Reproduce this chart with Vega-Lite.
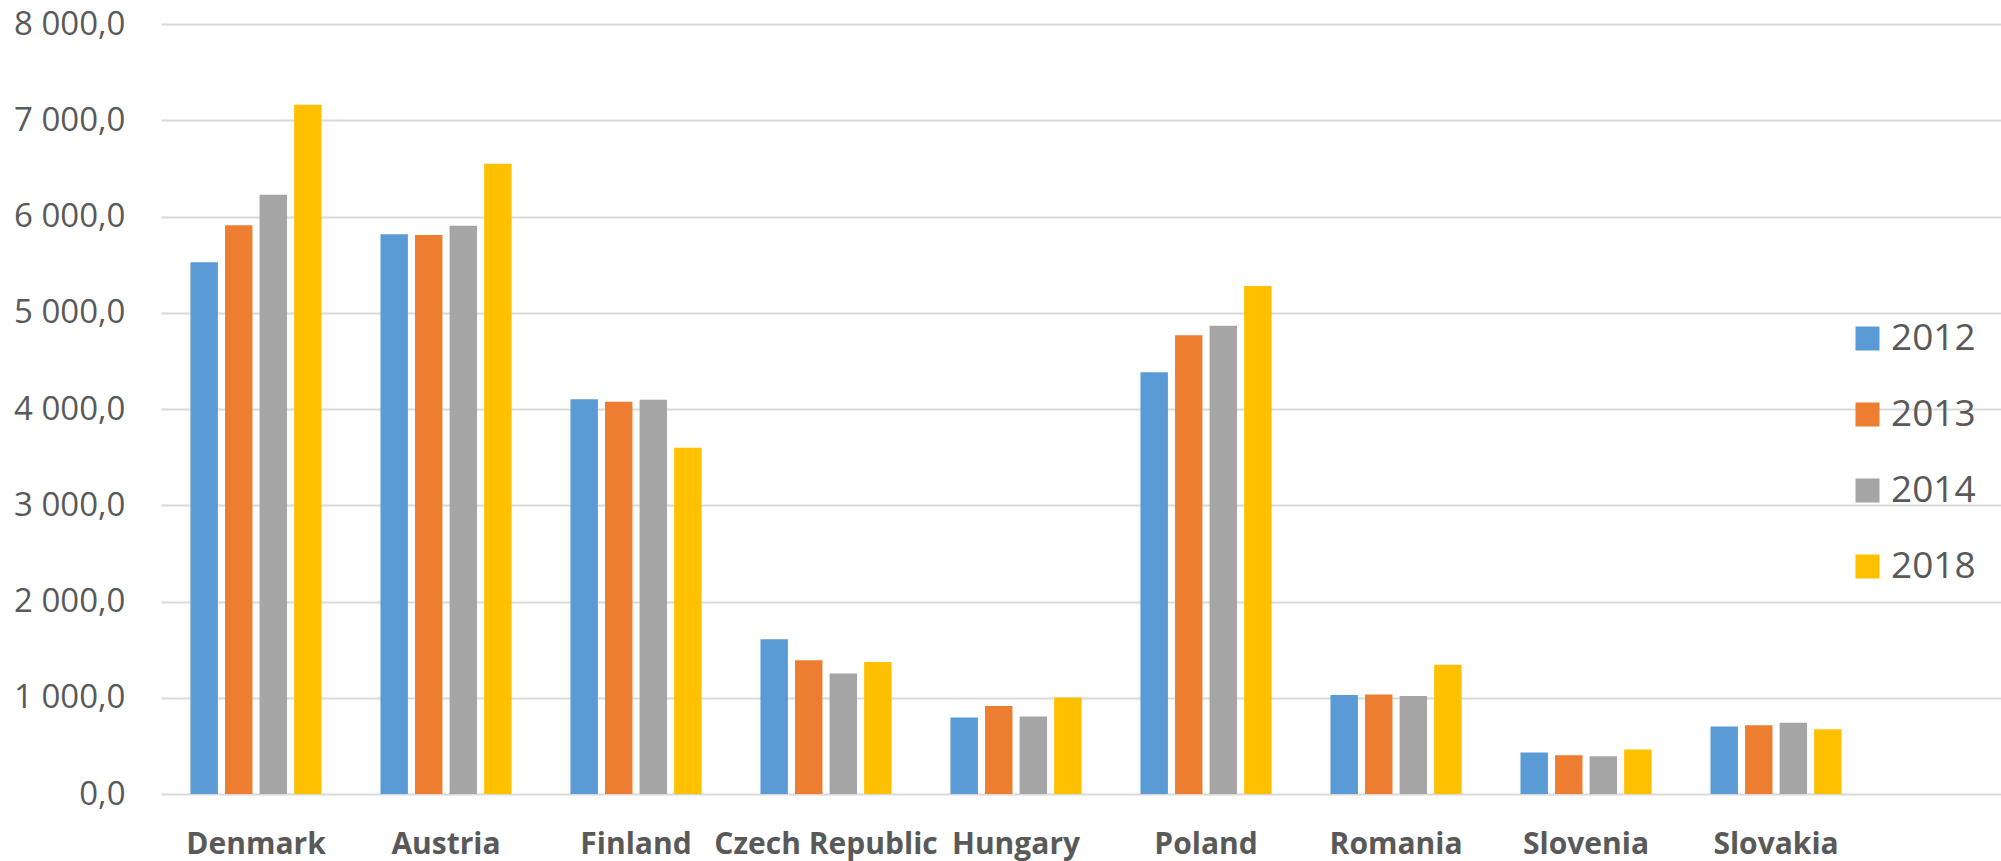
{
  "$schema": "https://vega.github.io/schema/vega-lite/v6.json",
  "width": 1840,
  "height": 770,
  "autosize": {"type": "none"},
  "padding": {"left": 161, "top": 24, "right": 0, "bottom": 67},
  "background": "white",
  "data": {
    "values": [
      {"country": "Denmark", "year": "2012", "value": 5524},
      {"country": "Denmark", "year": "2013", "value": 5910},
      {"country": "Denmark", "year": "2014", "value": 6226},
      {"country": "Denmark", "year": "2018", "value": 7160},
      {"country": "Austria", "year": "2012", "value": 5816},
      {"country": "Austria", "year": "2013", "value": 5809},
      {"country": "Austria", "year": "2014", "value": 5903},
      {"country": "Austria", "year": "2018", "value": 6549},
      {"country": "Finland", "year": "2012", "value": 4101},
      {"country": "Finland", "year": "2013", "value": 4076},
      {"country": "Finland", "year": "2014", "value": 4097},
      {"country": "Finland", "year": "2018", "value": 3597},
      {"country": "Czech Republic", "year": "2012", "value": 1608},
      {"country": "Czech Republic", "year": "2013", "value": 1389},
      {"country": "Czech Republic", "year": "2014", "value": 1253},
      {"country": "Czech Republic", "year": "2018", "value": 1372},
      {"country": "Hungary", "year": "2012", "value": 795},
      {"country": "Hungary", "year": "2013", "value": 913},
      {"country": "Hungary", "year": "2014", "value": 806},
      {"country": "Hungary", "year": "2018", "value": 1003},
      {"country": "Poland", "year": "2012", "value": 4382},
      {"country": "Poland", "year": "2013", "value": 4767},
      {"country": "Poland", "year": "2014", "value": 4865},
      {"country": "Poland", "year": "2018", "value": 5278},
      {"country": "Romania", "year": "2012", "value": 1028},
      {"country": "Romania", "year": "2013", "value": 1035},
      {"country": "Romania", "year": "2014", "value": 1017},
      {"country": "Romania", "year": "2018", "value": 1344},
      {"country": "Slovenia", "year": "2012", "value": 431},
      {"country": "Slovenia", "year": "2013", "value": 403},
      {"country": "Slovenia", "year": "2014", "value": 392},
      {"country": "Slovenia", "year": "2018", "value": 462},
      {"country": "Slovakia", "year": "2012", "value": 701},
      {"country": "Slovakia", "year": "2013", "value": 715},
      {"country": "Slovakia", "year": "2014", "value": 740},
      {"country": "Slovakia", "year": "2018", "value": 674}
    ]
  },
  "mark": {"type": "bar"},
  "encoding": {
    "x": {
      "field": "country",
      "type": "nominal",
      "sort": null,
      "scale": {"paddingInner": 0.31, "paddingOuter": 0.497, "align": 0.156},
      "axis": {
        "title": null,
        "labelAngle": 0,
        "domain": false,
        "ticks": false,
        "grid": false,
        "labelFont": "Open Sans",
        "labelFontWeight": "bold",
        "labelFontSize": 30,
        "labelColor": "#595959",
        "labelPadding": 35,
        "labelBaseline": "top",
        "labelOverlap": false,
        "labelLimit": 0
      }
    },
    "xOffset": {
      "field": "year",
      "type": "nominal",
      "scale": {"paddingInner": 0.206, "paddingOuter": 0}
    },
    "y": {
      "field": "value",
      "type": "quantitative",
      "scale": {"domain": [0, 8000], "nice": false},
      "axis": {
        "title": null,
        "values": [0, 1000, 2000, 3000, 4000, 5000, 6000, 7000, 8000],
        "labelExpr": "replace(replace(format(datum.value, ',.1f'), ',', ' '), '.', ',')",
        "domain": false,
        "ticks": false,
        "grid": true,
        "gridColor": "#D9D9D9",
        "gridWidth": 2,
        "labelFont": "Open Sans",
        "labelFontSize": 33,
        "labelColor": "#595959",
        "labelPadding": 36
      }
    },
    "color": {
      "field": "year",
      "type": "nominal",
      "scale": {
        "domain": ["2012", "2013", "2014", "2018"],
        "range": ["#5B9BD5", "#ED7D31", "#A5A5A5", "#FFC000"]
      },
      "legend": {
        "title": null,
        "orient": "none",
        "legendX": 1688,
        "legendY": 296,
        "padding": 0,
        "symbolType": "square",
        "symbolSize": 576,
        "symbolStrokeWidth": 0,
        "labelFont": "Open Sans",
        "labelFontSize": 37,
        "labelColor": "#595959",
        "labelOffset": 5,
        "rowPadding": 38
      }
    }
  },
  "config": {
    "view": {"stroke": null}
  }
}
